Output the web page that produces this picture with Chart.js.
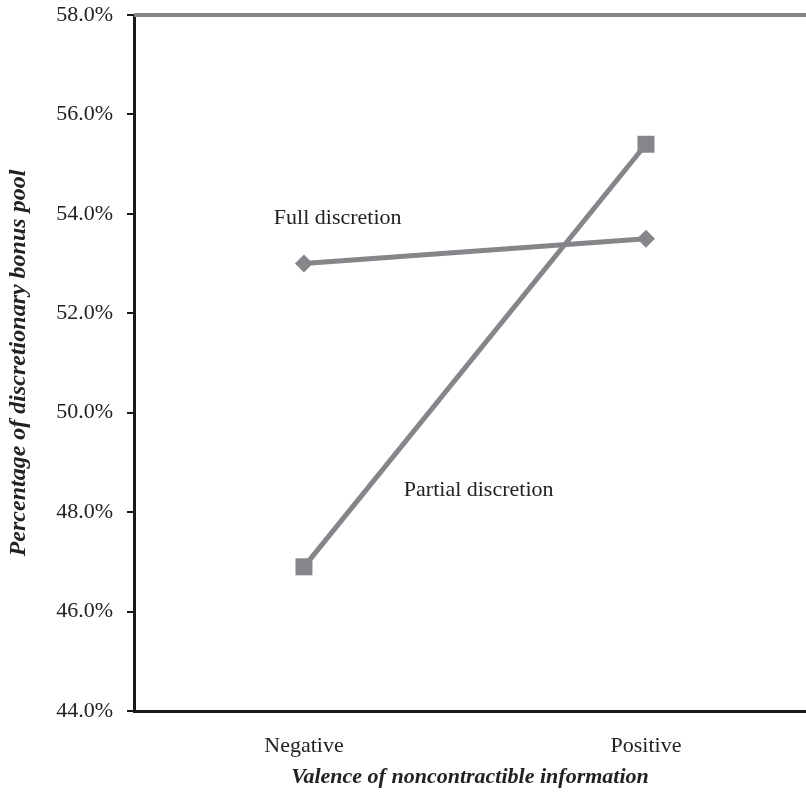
<!DOCTYPE html>
<html>
<head>
<meta charset="utf-8">
<script src="https://cdn.jsdelivr.net/npm/chart.js@4/dist/chart.umd.min.js"></script>
<style>
  html, body { margin: 0; padding: 0; background: #fff; overflow: hidden; }
</style>
</head>
<body>
<canvas id="chart" width="818" height="792"></canvas>
<script>
// data
const categories = ['Negative', 'Positive'];
const fullDiscretion = [53.0, 53.5];
const partialDiscretion = [46.9, 55.4];
const yTicks = [44, 46, 48, 50, 52, 54, 56, 58];
const seriesLabels = ['Full discretion', 'Partial discretion'];

const GRAY = '#85868a';
const FONT = '"Liberation Serif", "Times New Roman", serif';

// categories sit at x = 0 and 1 on a linear axis so the right edge can run off the page
const toPoints = arr => arr.map((v, i) => ({ x: i, y: v }));

// text labels sitting next to the lines, and the grey top border
const extras = {
  id: 'extras',
  afterDraw(chart) {
    const ctx = chart.ctx;
    const x = chart.scales.x, y = chart.scales.y;
    const area = chart.chartArea;
    ctx.save();
    ctx.strokeStyle = GRAY;
    ctx.lineWidth = 4;
    ctx.beginPath();
    ctx.moveTo(area.left, area.top);
    ctx.lineTo(area.right, area.top);
    ctx.stroke();

    ctx.fillStyle = '#222';
    ctx.font = '22px ' + FONT;
    ctx.textBaseline = 'middle';
    ctx.textAlign = 'left';
    ctx.fillText(seriesLabels[0], x.getPixelForValue(-0.088), y.getPixelForValue(53.92));
    ctx.fillText(seriesLabels[1], x.getPixelForValue(0.292), y.getPixelForValue(48.45));
    ctx.restore();
  }
};

new Chart(document.getElementById('chart'), {
  type: 'line',
  data: {
    datasets: [
      {
        label: seriesLabels[0],
        data: toPoints(fullDiscretion),
        borderColor: GRAY,
        backgroundColor: GRAY,
        borderWidth: 5,
        pointStyle: 'rectRot',
        pointRadius: 9,
        pointBorderWidth: 0,
        tension: 0
      },
      {
        label: seriesLabels[1],
        data: toPoints(partialDiscretion),
        borderColor: GRAY,
        backgroundColor: GRAY,
        borderWidth: 5,
        pointStyle: 'rect',
        pointRadius: 12,
        pointBorderWidth: 0,
        tension: 0
      }
    ]
  },
  options: {
    responsive: false,
    animation: false,
    layout: { padding: { left: 0, right: 0, top: 15, bottom: 0 } },
    plugins: {
      legend: { display: false },
      tooltip: { enabled: false }
    },
    scales: {
      x: {
        type: 'linear',
        min: -0.497,
        max: 1.468,
        afterBuildTicks(scale) {
          scale.ticks = categories.map((c, i) => ({ value: i }));
        },
        afterFit(scale) {
          scale.height = 81;
          scale.paddingLeft = 0;
          scale.paddingRight = 0;
        },
        grid: { display: false, drawTicks: false },
        border: { display: true, color: '#1a1a1a', width: 3 },
        ticks: {
          color: '#222',
          font: { family: FONT, size: 22 },
          padding: 22,
          maxRotation: 0,
          callback: v => categories[v]
        },
        title: {
          display: true,
          text: 'Valence of noncontractible information',
          color: '#222',
          font: { family: FONT, size: 22, weight: 'bold', style: 'italic' },
          padding: { top: 4, bottom: 1 }
        }
      },
      y: {
        min: 44,
        max: 58,
        afterBuildTicks(scale) {
          scale.ticks = yTicks.map(v => ({ value: v }));
        },
        afterFit(scale) {
          scale.width = 134;
          scale.paddingTop = 0;
          scale.paddingBottom = 0;
        },
        grid: { drawOnChartArea: false, drawTicks: true, tickLength: 7, color: '#1a1a1a', lineWidth: 2 },
        border: { display: true, color: '#1a1a1a', width: 3 },
        ticks: {
          color: '#222',
          font: { family: FONT, size: 22 },
          padding: 14,
          callback: v => v.toFixed(1) + '%'
        },
        title: {
          display: true,
          text: 'Percentage of discretionary bonus pool',
          color: '#222',
          font: { family: FONT, size: 24, weight: 'bold', style: 'italic' },
          padding: { top: 4, bottom: 0 }
        }
      }
    }
  },
  plugins: [extras]
});
</script>
</body>
</html>
